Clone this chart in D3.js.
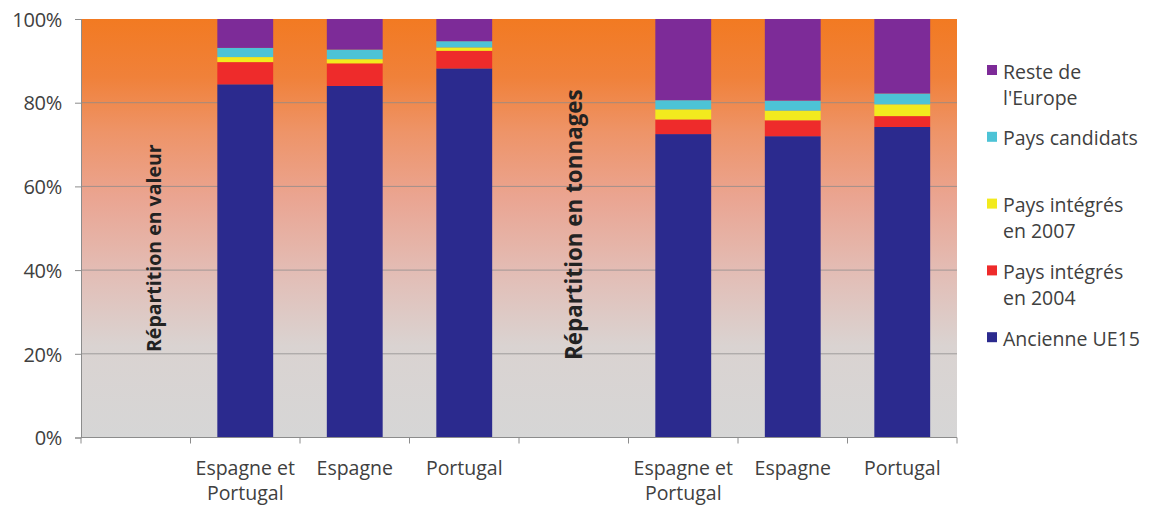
<!DOCTYPE html>
<html>
<head>
<meta charset="utf-8">
<script src="https://cdn.jsdelivr.net/npm/d3@7"></script>
<style>
  html, body { margin: 0; padding: 0; background: #ffffff; }
  svg text { font-family: "Open Sans", Lato, sans-serif; }
</style>
</head>
<body>
<svg id="chart" width="1154" height="506"></svg>
<script>
// Slots on the x axis: an empty slot before each group holds the group caption
const slots = ["v0", "v1", "v2", "v3", "t0", "t1", "t2", "t3"];
const slotLabels = ["", "Espagne et\nPortugal", "Espagne", "Portugal", "", "Espagne et\nPortugal", "Espagne", "Portugal"];
const barSlots = ["v1", "v2", "v3", "t1", "t2", "t3"];

// Shares (%) per origin, bottom to top of each stack
const ancienneUE15   = [84.4, 84.0, 88.2, 72.5, 72.0, 74.2];
const integres2004   = [5.3, 5.4, 4.2, 3.5, 3.8, 2.6];
const integres2007   = [1.2, 1.0, 0.8, 2.4, 2.3, 2.8];
const paysCandidats  = [2.2, 2.3, 1.5, 2.2, 2.4, 2.6];
const resteEurope    = [6.9, 7.3, 5.3, 19.4, 19.5, 17.8];

const seriesNames = ["Ancienne UE15", "Pays intégrés en 2004", "Pays intégrés en 2007", "Pays candidats", "Reste de l'Europe"];
const seriesKeys = ["ue15", "p2004", "p2007", "cand", "reste"];
const seriesColors = ["#2b2a8e", "#ee2b2b", "#f2ea1e", "#4dc3d6", "#7d2b98"];

const yTicks = [0, 20, 40, 60, 80, 100];
const captionSlots = ["v0", "t0"];
const captionTexts = ["Répartition en valeur", "Répartition en tonnages"];

const rows = barSlots.map((s, i) => ({
  slot: s,
  ue15: ancienneUE15[i],
  p2004: integres2004[i],
  p2007: integres2007[i],
  cand: paysCandidats[i],
  reste: resteEurope[i]
}));

const svg = d3.select("#chart");
const m = { left: 81, top: 19, right: 957, bottom: 437.5 };

const x = d3.scaleBand().domain(slots).range([m.left, m.right]).paddingInner(0.49).paddingOuter(0.245);
const y = d3.scaleLinear().domain([0, 100]).range([m.bottom, m.top]);

// Plot background gradient
const defs = svg.append("defs");
const grad = defs.append("linearGradient").attr("id", "bg").attr("x1", 0).attr("y1", 0).attr("x2", 0).attr("y2", 1);
[[0, "#f27a22"], [0.14, "#f0813a"], [0.27, "#ee9468"], [0.43, "#eaa592"], [0.6, "#e3bcb4"], [0.78, "#dad3d1"], [1, "#d6d6d6"]]
  .forEach(([o, c]) => grad.append("stop").attr("offset", o).attr("stop-color", c));

svg.append("rect")
  .attr("x", m.left).attr("y", m.top)
  .attr("width", m.right - m.left).attr("height", m.bottom - m.top)
  .attr("fill", "url(#bg)");

// Gridlines
svg.append("g").selectAll("line").data(yTicks.filter(t => t > 0 && t < 100)).join("line")
  .attr("x1", m.left).attr("x2", m.right)
  .attr("y1", d => y(d)).attr("y2", d => y(d))
  .attr("stroke", "#8a8a8a").attr("stroke-width", 1).attr("opacity", 0.75);

// Stacked bars
const stack = d3.stack().keys(seriesKeys)(rows);
svg.append("g").selectAll("g").data(stack).join("g")
  .attr("fill", (d, i) => seriesColors[i])
  .selectAll("rect").data(d => d).join("rect")
  .attr("x", d => x(d.data.slot))
  .attr("width", x.bandwidth())
  .attr("y", d => y(d[1]))
  .attr("height", d => y(d[0]) - y(d[1]));

// Y axis
const yAxis = svg.append("g").attr("transform", `translate(${m.left},0)`)
  .call(d3.axisLeft(y).tickValues(yTicks).tickFormat(d => d + "%").tickSize(6).tickPadding(13));
yAxis.select(".domain").attr("stroke", "#8c8c8c");
yAxis.selectAll(".tick line").attr("stroke", "#8c8c8c");
yAxis.selectAll("text").attr("font-size", 20).attr("fill", "#404040").attr("dy", "0.36em").attr("letter-spacing", -0.3);

// X axis with ticks at slot boundaries
const boundaries = d3.range(slots.length + 1).map(i => m.left + i * (m.right - m.left) / slots.length);
const xg = svg.append("g");
xg.append("line").attr("x1", m.left).attr("x2", m.right).attr("y1", m.bottom).attr("y2", m.bottom).attr("stroke", "#8c8c8c");
xg.selectAll("line.tk").data(boundaries).join("line").attr("class", "tk")
  .attr("x1", d => d).attr("x2", d => d).attr("y1", m.bottom).attr("y2", m.bottom + 6).attr("stroke", "#8c8c8c");

const labelG = xg.selectAll("text.lab").data(slots).join("text").attr("class", "lab")
  .attr("x", d => x(d) + x.bandwidth() / 2)
  .attr("y", 475)
  .attr("text-anchor", "middle")
  .attr("font-size", 19.5)
  .attr("fill", "#404040");
labelG.each(function (d, i) {
  const lines = slotLabels[i].split("\n");
  const t = d3.select(this);
  lines.forEach((ln, j) => t.append("tspan").attr("x", x(d) + x.bandwidth() / 2).attr("dy", j === 0 ? 0 : 25).text(ln));
});

// Group captions, rotated; each sits in its empty slot
const captionShift = [25, 8];
const captionBase = [352, 360];
const captionSize = [19.5, 22.4];
svg.append("g").selectAll("text").data(captionTexts).join("text")
  .attr("transform", (d, i) => `translate(${x(captionSlots[i]) + x.bandwidth() / 2 + captionShift[i]},${captionBase[i]}) rotate(-90)`)
  .attr("font-size", (d, i) => captionSize[i]).attr("font-weight", "bold").attr("fill", "#222222")
  .text(d => d);

// Legend (top to bottom: reverse of stacking order)
const legendItems = [
  { i: 4, lines: ["Reste de", "l'Europe"] },
  { i: 3, lines: ["Pays candidats"] },
  { i: 2, lines: ["Pays intégrés", "en 2007"] },
  { i: 1, lines: ["Pays intégrés", "en 2004"] },
  { i: 0, lines: ["Ancienne UE15"] }
];
const lg = svg.append("g");
legendItems.forEach((it, k) => {
  const cy = 70 + k * 66.8;
  lg.append("rect").attr("x", 987).attr("y", cy - 5).attr("width", 10).attr("height", 10).attr("fill", seriesColors[it.i]);
  const t = lg.append("text").attr("x", 1003).attr("y", cy + 8.5).attr("font-size", 19.5).attr("fill", "#404040");
  it.lines.forEach((ln, j) => t.append("tspan").attr("x", 1003).attr("dy", j === 0 ? 0 : 26).text(ln));
});
</script>
</body>
</html>
